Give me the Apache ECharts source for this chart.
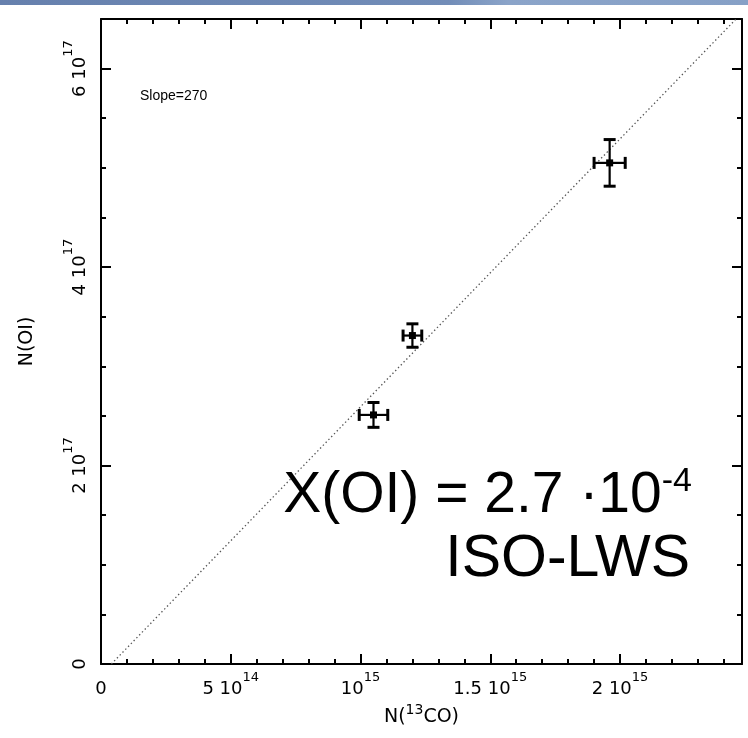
<!DOCTYPE html>
<html>
<head>
<meta charset="utf-8">
<title>N(OI) vs N(13CO)</title>
<script src="https://cdn.jsdelivr.net/npm/echarts@6/dist/echarts.min.js"></script>
<style>
  html, body { margin: 0; padding: 0; background: #ffffff; }
  #chart { width: 748px; height: 738px; }
</style>
</head>
<body>
<div id="chart"></div>
<script>
// Column densities: N(13CO) on x, N(OI) on y, with 1-sigma errors
const n13co    = [1.05e15, 1.20e15, 1.96e15];
const n13coErr = [0.055e15, 0.036e15, 0.06e15];
const nOI      = [2.51e17, 3.31e17, 5.05e17];
const nOIErr   = [0.125e17, 0.118e17, 0.235e17];

// Linear fit: N(OI) = slope * (N(13CO) - xOffset)
const fitSlope   = [270];
const fitXOffset = [0.04e15];

// Tick values and labels ("a^b" means a with superscript b)
const xTickValues = [0, 5e14, 1e15, 1.5e15, 2e15];
const xTickLabels = ['0', '5 10^14', '10^15', '1.5 10^15', '2 10^15'];
const yTickValues = [0, 2e17, 4e17, 6e17];
const yTickLabels = ['0', '2 10^17', '4 10^17', '6 10^17'];

const X_MAX = 2.47e15;
const Y_MAX = 6.5e17;

const FONT = '"Liberation Sans", Arial, Helvetica, sans-serif';
const TICK_FONT = '"DejaVu Sans", "Liberation Sans", sans-serif';

function toRich(label) {
  const i = label.indexOf('^');
  if (i < 0) return '{n|' + label + '}';
  return '{n|' + label.slice(0, i) + '}{s|' + label.slice(i + 1) + '}';
}
function labelFor(values, labels) {
  return function (v) {
    for (let i = 0; i < values.length; i++) {
      if (Math.abs(v - values[i]) < 1e-6 * Math.max(1, Math.abs(values[i]))) return toRich(labels[i]);
    }
    return '';
  };
}
const tickRich = {
  n: { fontSize: 18, fontFamily: TICK_FONT, color: '#000', lineHeight: 27, verticalAlign: 'bottom' },
  s: { fontSize: 13, fontFamily: TICK_FONT, color: '#000', lineHeight: 16, verticalAlign: 'top' }
};
const titleRich = {
  n: { fontSize: 19, fontFamily: TICK_FONT, color: '#000', lineHeight: 24, verticalAlign: 'bottom' },
  s: { fontSize: 14, fontFamily: TICK_FONT, color: '#000', lineHeight: 16, verticalAlign: 'top' }
};

const frameColor = '#000';
function majorAxis(extra) {
  return Object.assign({
    type: 'value', gridIndex: 0,
    axisLine: { show: true, onZero: false, lineStyle: { color: frameColor, width: 2 } },
    axisTick: { show: true, inside: true, length: 10, lineStyle: { color: frameColor, width: 2 } },
    splitLine: { show: false },
    axisLabel: { show: false }
  }, extra);
}
function minorAxis(extra) {
  return Object.assign({
    type: 'value', gridIndex: 0,
    axisLine: { show: false, onZero: false },
    axisTick: { show: true, inside: true, length: 5, lineStyle: { color: frameColor, width: 2 } },
    splitLine: { show: false },
    axisLabel: { show: false }
  }, extra);
}

const errData = n13co.map((x, i) => [x, nOI[i], n13coErr[i], nOIErr[i]]);
const fitLine = [
  [fitXOffset[0], 0],
  [fitXOffset[0] + Y_MAX / fitSlope[0], Y_MAX]
];

const chart = echarts.init(document.getElementById('chart'), null, { renderer: 'canvas' });
chart.setOption({
  animation: false,
  backgroundColor: '#ffffff',
  grid: { left: 101, right: 6, top: 19, bottom: 74, containLabel: false, outerBoundsMode: 'none' },
  xAxis: [
    majorAxis({
      position: 'bottom', min: 0, max: X_MAX, interval: 5e14,
      axisLabel: {
        show: true, margin: 7, fontSize: 18, fontFamily: TICK_FONT,
        formatter: labelFor(xTickValues, xTickLabels), rich: tickRich
      },
      name: '{n|N(}{s|13}{n|CO)}', nameLocation: 'middle', nameGap: 33,
      nameTextStyle: { fontSize: 19, fontFamily: TICK_FONT, rich: titleRich }
    }),
    minorAxis({ position: 'bottom', min: 0, max: X_MAX, interval: 1e14 }),
    majorAxis({ position: 'top', min: 0, max: X_MAX, interval: 5e14 }),
    minorAxis({ position: 'top', min: 0, max: X_MAX, interval: 1e14 })
  ],
  yAxis: [
    majorAxis({
      position: 'left', min: 0, max: Y_MAX, interval: 2e17,
      axisLabel: {
        show: true, rotate: 90, margin: 12, fontSize: 18, fontFamily: TICK_FONT,
        formatter: labelFor(yTickValues, yTickLabels), rich: tickRich
      },
      name: 'N(OI)', nameLocation: 'middle', nameRotate: 90, nameGap: 64,
      nameTextStyle: { fontSize: 19, fontFamily: TICK_FONT, color: '#000' }
    }),
    minorAxis({ position: 'left', min: 0, max: Y_MAX, interval: 0.5e17 }),
    majorAxis({ position: 'right', min: 0, max: Y_MAX, interval: 2e17 }),
    minorAxis({ position: 'right', min: 0, max: Y_MAX, interval: 0.5e17 })
  ],
  series: [
    {
      type: 'line', xAxisIndex: 0, yAxisIndex: 0,
      data: fitLine, symbol: 'none', silent: true, z: 1,
      lineStyle: { color: '#555', width: 1.3, type: [1.4, 2.6] }
    },
    {
      type: 'custom', xAxisIndex: 0, yAxisIndex: 0, z: 3,
      data: errData,
      encode: { x: 0, y: 1 },
      renderItem: function (params, api) {
        const x = api.value(0), y = api.value(1), ex = api.value(2), ey = api.value(3);
        const c = api.coord([x, y]);
        const l = api.coord([x - ex, y]), r = api.coord([x + ex, y]);
        const b = api.coord([x, y - ey]), t = api.coord([x, y + ey]);
        const cap = 6;
        const bar = { stroke: '#000', lineWidth: 2.2 };
        const capS = { stroke: '#000', lineWidth: 3 };
        return {
          type: 'group',
          children: [
            { type: 'line', shape: { x1: l[0], y1: l[1], x2: r[0], y2: r[1] }, style: bar },
            { type: 'line', shape: { x1: b[0], y1: b[1], x2: t[0], y2: t[1] }, style: bar },
            { type: 'line', shape: { x1: l[0], y1: l[1] - cap, x2: l[0], y2: l[1] + cap }, style: capS },
            { type: 'line', shape: { x1: r[0], y1: r[1] - cap, x2: r[0], y2: r[1] + cap }, style: capS },
            { type: 'line', shape: { x1: b[0] - cap, y1: b[1], x2: b[0] + cap, y2: b[1] }, style: capS },
            { type: 'line', shape: { x1: t[0] - cap, y1: t[1], x2: t[0] + cap, y2: t[1] }, style: capS },
            { type: 'rect', shape: { x: c[0] - 3.5, y: c[1] - 3.5, width: 7, height: 7 }, style: { fill: '#000' } }
          ]
        };
      }
    }
  ],
  graphic: [
    {
      type: 'rect', left: 0, top: 0, z: 10,
      shape: { width: 748, height: 5 },
      style: {
        fill: {
          type: 'linear', x: 0, y: 0, x2: 1, y2: 0,
          colorStops: [
            { offset: 0, color: '#6680ad' },
            { offset: 0.6, color: '#728db8' },
            { offset: 0.68, color: '#8ba4c9' },
            { offset: 1, color: '#86a0c6' }
          ]
        }
      }
    },
    {
      type: 'text', x: 140, y: 96, z: 10,
      style: { text: 'Slope=270', fontSize: 14, fontFamily: FONT, fill: '#000', textVerticalAlign: 'middle' }
    },
    {
      type: 'text', x: 692, y: 495, z: 10,
      style: {
        text: '{b|X(OI) = 2.7 ·10}{s|-4}',
        align: 'right', verticalAlign: 'middle',
        rich: {
          b: { fontSize: 57, fontFamily: FONT, fill: '#000', lineHeight: 60, verticalAlign: 'bottom' },
          s: { fontSize: 34, fontFamily: FONT, fill: '#000', lineHeight: 36, verticalAlign: 'top' }
        }
      }
    },
    {
      type: 'text', x: 690, y: 560, z: 10,
      style: {
        text: 'ISO-LWS', fontSize: 59, fontFamily: FONT, fill: '#000',
        align: 'right', verticalAlign: 'middle'
      }
    }
  ]
});
</script>
</body>
</html>
